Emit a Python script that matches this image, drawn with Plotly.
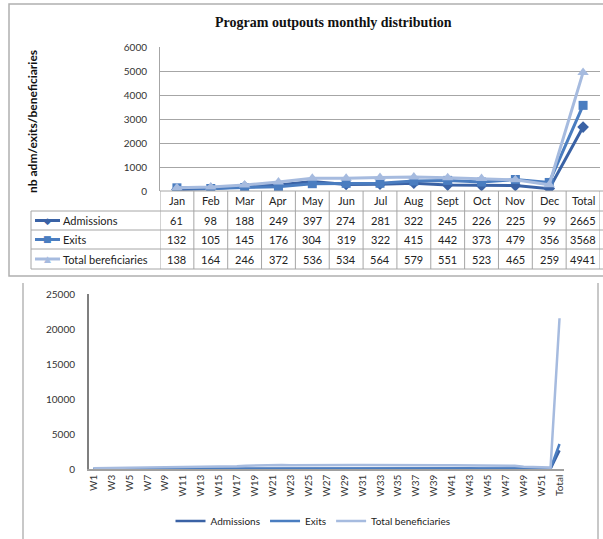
import plotly.graph_objects as go

# ---------------- data ----------------
months = ["Jan", "Feb", "Mar", "Apr", "May", "Jun", "Jul", "Aug", "Sept", "Oct", "Nov", "Dec", "Total"]
admissions_m = [61, 98, 188, 249, 397, 274, 281, 322, 245, 226, 225, 99, 2665]
exits_m = [132, 105, 145, 176, 304, 319, 322, 415, 442, 373, 479, 356, 3568]
benef_m = [138, 164, 246, 372, 536, 534, 564, 579, 551, 523, 465, 259, 4941]
row_labels = ["Admissions", "Exits", "Total bereficiaries"]

weeks = [f"W{i}" for i in range(1, 53)] + ["Total"]
admissions_w = [12, 15, 18, 16, 22, 25, 28, 23, 35, 38, 40, 37, 38, 58, 62, 66, 63,
                75, 82, 80, 84, 76, 66, 70, 72, 66, 68, 72, 71, 70, 62, 65, 68, 64, 63,
                60, 63, 62, 60, 55, 58, 57, 56, 45, 46, 44, 45, 45, 28, 26, 24, 21, 2665]
exits_w = [30, 33, 35, 34, 25, 27, 28, 25, 28, 30, 29, 30, 28, 42, 45, 46, 43,
           60, 62, 61, 60, 61, 78, 82, 80, 79, 80, 82, 81, 79, 82, 84, 83, 85, 81,
           108, 112, 111, 111, 92, 95, 94, 92, 95, 97, 96, 95, 96, 90, 92, 88, 86, 3568]
benef_w = [120, 135, 145, 150, 155, 162, 168, 172, 205, 230, 250, 262, 275, 330, 360, 385, 405,
           480, 520, 545, 560, 570, 540, 530, 535, 532, 550, 565, 570, 572, 575, 580, 585, 578, 575,
           560, 552, 548, 545, 530, 525, 520, 515, 490, 470, 460, 455, 450, 330, 270, 240, 200, 21530]

W, H = 603, 539
def px(x): return x / W
def py(y): return 1 - y / H

C_ADM = "#3A62A5"
C_EXT = "#4A7DC0"
C_BEN = "#A6BBDF"
GRID = "#A6A6A6"
FONT = "Lato"

fig = go.Figure()

# ---------------- top chart ----------------
fig.add_trace(go.Scatter(x=months, y=admissions_m, mode="lines+markers", name="Admissions",
                         line=dict(color=C_ADM, width=3), marker=dict(symbol="diamond", size=9, color=C_ADM),
                         xaxis="x", yaxis="y", showlegend=False))
fig.add_trace(go.Scatter(x=months, y=exits_m, mode="lines+markers", name="Exits",
                         line=dict(color=C_EXT, width=3), marker=dict(symbol="square", size=9, color=C_EXT),
                         xaxis="x", yaxis="y", showlegend=False))
fig.add_trace(go.Scatter(x=months, y=benef_m, mode="lines+markers", name="Total bereficiaries",
                         line=dict(color=C_BEN, width=3), marker=dict(symbol="triangle-up", size=10, color=C_BEN),
                         xaxis="x", yaxis="y", showlegend=False))

# ---------------- bottom chart ----------------
fig.add_trace(go.Scatter(x=weeks, y=admissions_w, mode="lines", name="Admissions",
                         line=dict(color=C_ADM, width=2.5), xaxis="x2", yaxis="y2"))
fig.add_trace(go.Scatter(x=weeks, y=exits_w, mode="lines", name="Exits",
                         line=dict(color=C_EXT, width=2.5), xaxis="x2", yaxis="y2"))
fig.add_trace(go.Scatter(x=weeks, y=benef_w, mode="lines", name="Total beneficiaries",
                         line=dict(color=C_BEN, width=2.5), xaxis="x2", yaxis="y2"))

shapes = []
annotations = []

def ann(text, x, y, xref="paper", yref="paper", xanchor="center", yanchor="middle", **kw):
    d = dict(text=text, x=x, y=y, xref=xref, yref=yref, xanchor=xanchor, yanchor=yanchor, showarrow=False)
    d.update(kw)
    annotations.append(d)

# outer frames
shapes.append(dict(type="rect", xref="paper", yref="paper", x0=px(9), x1=px(612), y0=py(276), y1=py(4),
                   line=dict(color="#B0B0B0", width=1.5)))
for xx in (23, 598):
    shapes.append(dict(type="line", xref="paper", yref="paper", x0=px(xx), x1=px(xx), y0=py(283), y1=py(545),
                       line=dict(color="#C8C8C8", width=2)))

# title and y title for top chart
ann("<b>Program outpouts monthly distribution</b>", px(333), py(22),
    font=dict(family="Liberation Serif", size=14, color="#111"))
ann("<b>nb adm/exits/beneficiaries</b>", px(33), py(122), textangle=-90,
    font=dict(family=FONT, size=12, color="#111"))

# data table under top chart
row_tops = [191, 211, 230, 249, 269]
n = len(months)
shapes.append(dict(type="line", xref="paper", yref="paper", x0=px(160), x1=px(612), y0=py(191), y1=py(191),
                   line=dict(color=GRID, width=1)))
for yy in row_tops[1:]:
    shapes.append(dict(type="line", xref="paper", yref="paper", x0=px(31), x1=px(612), y0=py(yy), y1=py(yy),
                       line=dict(color=GRID, width=1)))
for i in range(n + 1):
    shapes.append(dict(type="line", xref="x", yref="paper", x0=i - 0.5, x1=i - 0.5, y0=py(269), y1=py(191),
                       line=dict(color=GRID, width=1)))
shapes.append(dict(type="line", xref="paper", yref="paper", x0=px(31), x1=px(31), y0=py(269), y1=py(211),
                   line=dict(color=GRID, width=1)))

for m in months:
    ann(m, m, py(201), xref="x", font=dict(family=FONT, size=11, color="#222"))

series = [admissions_m, exits_m, benef_m]
colors = [C_ADM, C_EXT, C_BEN]
glyphs = ["◆", "■", "▲"]
for r, (vals, lab, col, g) in enumerate(zip(series, row_labels, colors, glyphs)):
    yc = (row_tops[r + 1] + row_tops[r + 2]) / 2
    for m, v in zip(months, vals):
        ann(str(v), m, py(yc), xref="x", font=dict(family=FONT, size=11, color="#222"))
    shapes.append(dict(type="line", xref="paper", yref="paper", x0=px(35), x1=px(60), y0=py(yc), y1=py(yc),
                       line=dict(color=col, width=3)))
    ann(g, px(47.5), py(yc), font=dict(family="DejaVu Sans", size=9, color=col))
    ann(lab, px(61), py(yc), xanchor="left", font=dict(family=FONT, size=11, color="#222"))

fig.update_layout(
    width=W, height=H,
    margin=dict(l=0, r=0, t=0, b=0, autoexpand=False),
    paper_bgcolor="white", plot_bgcolor="white",
    font=dict(family=FONT, size=10, color="#333"),
    xaxis=dict(domain=[px(160), px(600)], range=[-0.5, n - 0.5], showticklabels=False, ticks="",
               showgrid=False, showline=False, zeroline=False, categoryorder="array",
               categoryarray=months, automargin=False),
    yaxis=dict(domain=[py(191), py(47)], range=[0, 6000], dtick=1000, showgrid=True, gridcolor=GRID,
               gridwidth=1, showline=True, linecolor=GRID, zeroline=False, ticks="", tickformat="d",
               ticklabelstandoff=10, tickfont=dict(size=10, color="#333"), automargin=False),
    xaxis2=dict(domain=[px(89), px(564)], range=[-0.5, len(weeks) - 0.5], anchor="y2",
                tickmode="array", tickvals=weeks[::2], ticktext=weeks[::2], tickangle=-90,
                showgrid=False, showline=True, linecolor="#A0A0A0", linewidth=1.5, ticks="",
                zeroline=False, tickfont=dict(size=10, color="#333"), automargin=False),
    yaxis2=dict(domain=[py(469), py(294)], range=[0, 25000], dtick=5000, anchor="x2", tickformat="d",
                showgrid=False, showline=True, linecolor="#7F7F7F", linewidth=2, ticks="",
                zeroline=False, ticklabelstandoff=10, tickfont=dict(size=10, color="#333"), automargin=False),
    legend=dict(orientation="h", x=px(313), y=py(521), xanchor="center", yanchor="middle",
                font=dict(size=10, color="#222"), bgcolor="rgba(0,0,0,0)"),
    shapes=shapes, annotations=annotations,
)

fig.write_html("out.html", config={"displayModeBar": False},
               post_script="document.body.style.margin='0';document.body.style.overflow='hidden';")
